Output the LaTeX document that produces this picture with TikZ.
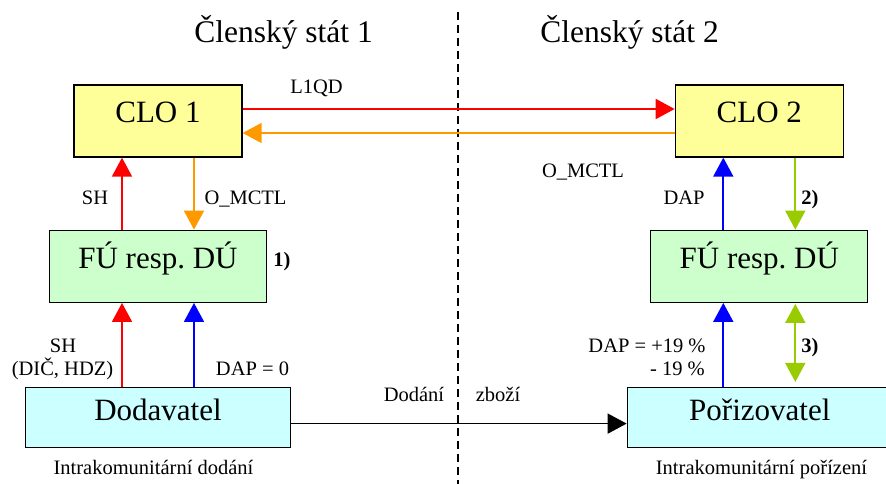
\documentclass[tikz,border=0pt]{standalone}
\usepackage{fontspec}
\setmainfont{Liberation Serif}
\usetikzlibrary{arrows.meta,positioning}

\definecolor{cloyellow}{HTML}{FFFF99}
\definecolor{fugreen}{HTML}{CCFFCC}
\definecolor{firmcyan}{HTML}{CCFFFF}
\definecolor{mctlorange}{HTML}{FF9900}
\definecolor{stepgreen}{HTML}{99CC00}

\begin{document}
\begin{tikzpicture}[
  x = 1pt, y = -1pt,
  clo/.style    = {rectangle, draw, line width=1.3pt, fill=cloyellow, minimum width=168pt, minimum height=72pt, inner sep=0pt, text height=0.7em, text depth=0.3em, font=\fontsize{31}{36}\selectfont},
  office/.style = {rectangle, draw, line width=1.3pt, fill=fugreen  , minimum width=217pt, minimum height=72pt, inner sep=0pt, text height=0.7em, text depth=0.3em, font=\fontsize{31}{36}\selectfont},
  firm/.style   = {rectangle, draw, line width=1.3pt, fill=firmcyan , minimum width=265pt, minimum height=60pt, inner sep=0pt, text height=0.65em, text depth=0pt, font=\fontsize{31}{36}\selectfont},
  state/.style  = {anchor=base, inner sep=0pt, font=\fontsize{31.5}{36}\selectfont},
  lbl/.style    = {anchor=base, inner sep=0pt, font=\fontsize{20.5}{24}\selectfont},
  note/.style   = {lbl, font=\fontsize{20.5}{24}\selectfont\bfseries},
  sig/.style    = {-{Triangle[width=20pt,length=19pt]}, line width=1.8pt},
  ]
  \useasboundingbox (0,0) rectangle (886,484);
  % border between the states
  \draw[line width=1.5pt, dash pattern=on 8pt off 5pt] (458,12) coordinate (top) -- (458,484) coordinate (bottom);
  \node[state] (st1) at (283.5,43) {Členský stát 1};
  \node[state] (st2) at (629.5,43) {Členský stát 2};
  % member state 1
  \node[clo] (clo1) at (158,121) {CLO 1};
  \node[office, below=72pt of clo1] (fu1) {FÚ resp.\ DÚ};
  \node[firm, below=84pt of fu1] (dod) {Dodavatel};
  % member state 2
  \node[clo, right=432pt of clo1] (clo2) {CLO 2};
  \node[office, below=72pt of clo2] (fu2) {FÚ resp.\ DÚ};
  \node[firm, below=84pt of fu2, xshift=0.5pt] (por) {Pořizovatel};
  % exchange between the offices
  \draw[sig, red] ([yshift=12pt]clo1.east) -- ([yshift=12pt]clo1.east -| clo2.west);
  \draw[sig, mctlorange] ([yshift=-12pt]clo2.west) -- ([yshift=-12pt]clo2.west -| clo1.east);
  % reports in state 1
  \draw[sig, red] ([xshift=-36pt]fu1.north) -- ([xshift=-36pt]fu1.north |- clo1.south);
  \draw[sig, mctlorange] ([xshift=36pt]fu1.north |- clo1.south) -- ([xshift=36pt]fu1.north);
  \draw[sig, red] ([xshift=-36pt]fu1.south |- dod.north) -- ([xshift=-36pt]fu1.south);
  \draw[sig, blue] ([xshift=36pt]fu1.south |- dod.north) -- ([xshift=36pt]fu1.south);
  % reports in state 2
  \draw[sig, blue] ([xshift=-36pt]fu2.north) -- ([xshift=-36pt]fu2.north |- clo2.south);
  \draw[sig, stepgreen] ([xshift=36pt]fu2.north |- clo2.south) -- ([xshift=36pt]fu2.north);
  \draw[sig, blue] ([xshift=-36pt]fu2.south |- por.north) -- ([xshift=-36pt]fu2.south);
  \draw[sig, stepgreen, {Triangle[width=20pt,length=19pt]}-{Triangle[width=20pt,length=19pt]}, shorten <=1pt, shorten >=5pt] ([xshift=36pt]fu2.south) -- ([xshift=36pt]fu2.south |- por.north);
  % goods
  \draw[sig, black, line width=1.5pt] ([yshift=-6pt]dod.east) -- ([yshift=-6pt]dod.east -| por.west);
  % labels
  \node[lbl] (l1qd)    at (316.5,94) {L1QD};
  \node[lbl] (omctl2)  at (583,178)  {O\_MCTL};
  \node[lbl] (sh1)     at (95,204)   {SH};
  \node[lbl] (omctl1)  at (245.5,204) {O\_MCTL};
  \node[lbl] (dap2)    at (684,204)  {DAP};
  \node[note] (n2)     at (810,204)  {2)};
  \node[note] (n1)     at (282,266)  {1)};
  \node[lbl] (sh0)     at (63,352)   {SH};
  \node[lbl] (dic)     at (62.5,375) {(DIČ, HDZ)};
  \node[lbl] (dap0)    at (252.5,375) {DAP = 0};
  \node[lbl] (dapplus) at (647,352)  {DAP = +19 \%};
  \node[lbl, anchor=base east] (dapminus) at (705,375) {- 19 \%};
  \node[note] (n3)     at (810,352)  {3)};
  \node[lbl] (dodani)  at (414,401)  {Dodání};
  \node[lbl] (zbozi)   at (498,401)  {zboží};
  \node[lbl] (icd)     at (153.5,474) {Intrakomunitární dodání};
  \node[lbl] (ica)     at (761.5,474) {Intrakomunitární pořízení};
\end{tikzpicture}
\end{document}
